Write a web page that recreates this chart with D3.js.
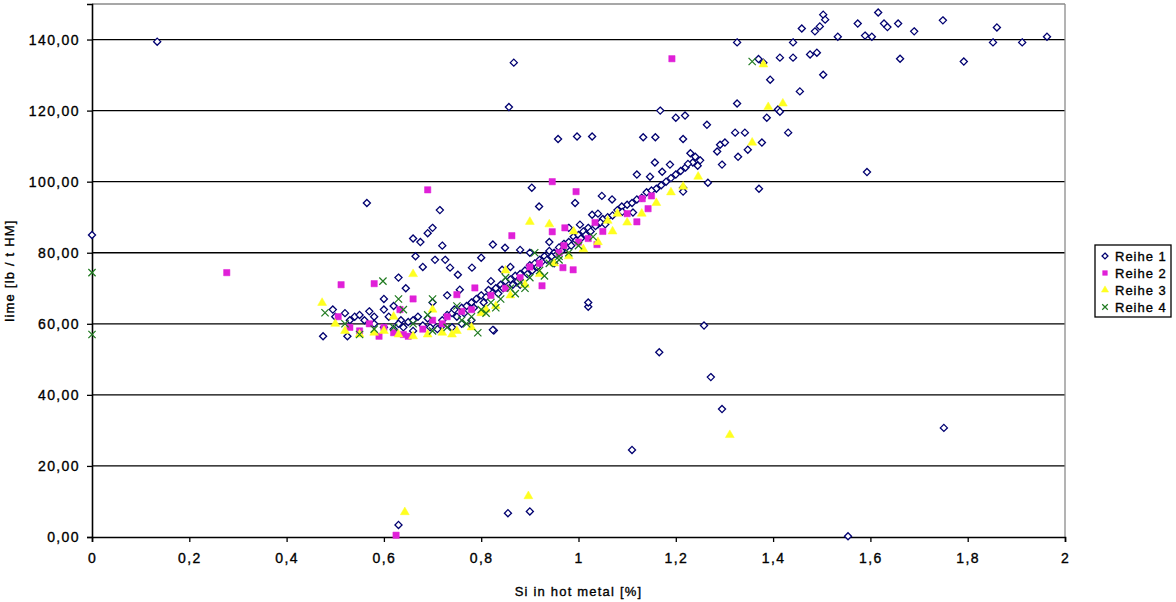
<!DOCTYPE html>
<html>
<head>
<meta charset="utf-8">
<script src="https://cdn.jsdelivr.net/npm/d3@7/dist/d3.min.js"></script>
<style>
  body{margin:0;background:#fff;}
  text{font-family:"Liberation Sans",Arial,sans-serif;fill:#000;stroke:#000;stroke-width:0.35px;}
  .grid line{stroke:#000;stroke-width:1.3;}
  .tick text{font-size:14px;letter-spacing:1.4px;}
</style>
</head>
<body>
<script>
// x: Si in hot metal [%], y: lime [lb / t HM]
var xTicks=[0,0.2,0.4,0.6,0.8,1,1.2,1.4,1.6,1.8,2];
var yTicks=[0,20,40,60,80,100,120,140];
var seriesNames=['Reihe 1','Reihe 2','Reihe 3','Reihe 4'];

var reihe1=[
  [0.134,139.4],[0,85],[0.565,94],[0.475,56.5],[0.525,56.5],[0.495,64],[0.52,63],[0.54,62],
  [0.63,3.4],[0.855,6.7],[0.90,7.2],[1.11,24.5],[1.554,0.2],[1.258,59.5],[1.272,45],[1.295,36],
  [1.751,30.7],[1.166,52],[0.826,58.1],[1.02,64.8],[1.02,66],[0.857,121],[0.867,133.5],
  [0.997,112.7],[1.028,112.7],[0.958,112],[1.133,112.5],[1.158,112.5],[1.168,120],[1.2,118],
  [1.219,118.6],[1.264,116],[1.215,112],[1.326,122],[1.322,113.8],[1.342,113.8],[1.431,113.8],
  [1.377,111],[1.291,110.4],[1.285,108.5],[1.301,111],[1.328,107],[1.348,109],[1.295,104.8],
  [1.387,118],[1.41,120.3],[1.371,98],[1.215,98.3],[1.266,99.7],[1.593,102.7],[1.326,139.2],
  [1.37,134.5],[1.38,133.5],[1.394,128.7],[1.455,125.4],[1.414,134.9],[1.441,134.9],[1.441,139.2],
  [1.476,135.8],[1.49,136.3],[1.503,130.1],[1.459,143.1],[1.486,142.3],[1.496,143.7],[1.503,147],
  [1.507,145.6],[1.533,140.8],[1.574,144.5],[1.589,141.1],[1.603,140.8],[1.616,147.6],[1.628,144.5],
  [1.635,143.5],[1.657,144.5],[1.69,142.3],[1.661,134.6],[1.749,145.4],[1.792,133.8],[1.86,143.4],
  [1.852,139.2],[1.912,139.2],[1.963,140.8],[1.414,119.7],
  [0.904,98.3],[0.919,93],[0.993,94],[1.048,96],[1.069,95],[1.12,102],[1.147,101.4],[1.172,102.8],
  [1.157,105.4],[1.188,104.8],[1.235,105.4],[1.215,97.2],[1.089,93],[1.112,91.3],[1.028,90.7],
  [1.003,87.9],[0.824,82.3],[0.849,81.4],[0.88,80.8],[0.8,78.6],[0.726,78],[0.736,75.8],
  [0.752,73.8],[0.781,75.8],[0.843,75.2],[0.756,69.6],[0.824,58.3],
  [0.66,84],[0.675,83],[0.69,85.5],[0.70,87],[0.715,92],[0.665,79],[0.68,76],[0.63,73],
  [0.645,70],[0.705,78],[0.72,82],
  [0.56,61],[0.58,60],[0.6,59],[0.62,58.5],[0.64,59],[0.66,58],[0.68,59.5],[0.7,60],[0.72,61],
  [0.73,62.5],[0.74,63],[0.75,62],[0.76,64.5],[0.77,65],[0.78,66],[0.79,67],[0.8,68],[0.81,67.5],
  [0.82,69],[0.83,70],[0.84,71],[0.85,72],[0.86,72.5],[0.87,73.5],[0.88,74],[0.89,75],[0.9,76.5],
  [0.91,77],[0.92,78],[0.93,79],[0.94,80.5],[0.95,80],[0.96,81.5],[0.97,82.5],[0.98,83],[0.99,84.5],
  [1.0,85],[1.01,86],[1.02,87],[1.04,88],[1.05,89.5],[1.06,90],[1.08,92],[1.1,93.5],[1.12,95],
  [1.14,97],[1.16,98],[1.18,100],[1.2,102],[1.22,104],[1.24,107],[1.25,106],[1.23,108],[1.245,104.5],
  [0.82,72],[0.86,76],[0.9,80],[0.94,83],[0.98,87],[1.04,91],[0.95,77],[0.88,71],
  [0.745,64],[0.765,63],[0.785,64.5],[0.805,66],[0.815,69.5],[0.835,68.5],[0.845,70],[0.865,71],
  [0.875,72],[0.895,74],[0.905,75],[0.915,76],[0.925,77.5],[0.935,78],[0.945,79],[0.955,79.5],
  [0.965,80.5],[0.975,81.5],[0.985,82],[0.995,83.5],[1.005,84],[1.015,85],[1.025,86],[1.035,87.5],
  [1.045,88.5],[1.055,88],[1.07,90.5],[1.09,91.5],[1.11,94],[1.13,95.5],[1.15,97.5],[1.17,99],
  [1.19,101],[1.21,103],[1.225,105],
  [0.5,62],[0.55,62.5],[0.57,63.5],[0.6,64],[0.61,62],[0.635,61],[0.65,60.5],[0.67,62],[0.69,61.5],
  [0.71,58.5],[0.74,59],[0.76,60],[0.78,61],[0.6,67],[0.62,65],[0.7,66],[0.73,68],
  [0.53,61],[0.58,62],[0.63,60],[0.66,61],[0.695,59],[0.72,59.5]
];

var reihe2=[
  [0.277,74.4],[0.512,71],[0.506,62],[0.53,59],[0.625,0.5],[1.192,134.6],[0.69,97.7],[0.58,71.3],
  [0.633,64],[0.66,67],[0.6,59],[0.62,57.5],[0.55,58],[0.57,60],[0.64,57],[0.68,58.5],[0.7,61],
  [0.72,60],[0.946,100],[0.995,97.2],[0.863,84.8],[0.946,85.9],[0.972,87],[1.034,88.5],[1.038,82.3],
  [1.131,95.2],[1.143,92.4],[1.12,88.7],[0.968,75.8],[0.989,75.2],[0.925,70.7],[0.75,68.2],
  [0.787,70.1],[0.9,76],[0.78,64],[0.82,68],[0.85,70],[0.88,73],[0.92,77],[0.96,80],[1.0,83],
  [1.05,86],[1.1,91],[1.15,96],[0.73,62],[0.76,63.5],[0.97,82],[1.02,84],[0.65,56.5],[0.59,56.5]
];

var reihe3=[
  [0.643,7],[0.897,11.5],[1.311,28.7],[1.39,121],[1.357,111],[1.246,101.4],[1.215,98.6],[0.473,65.9],
  [0.9,88.7],[1.38,133],[1.42,122],[0.5,60],[0.52,58],[0.55,57],[0.58,57.5],[0.6,58],[0.63,57],
  [0.66,56.5],[0.69,57],[0.72,57.5],[0.75,58],[0.78,59],[0.8,63],[0.83,65],[0.86,68],[0.89,71],
  [0.92,74],[0.95,77],[0.98,79],[1.01,81],[1.04,83],[1.07,86],[1.1,88.5],[1.13,91],[1.16,94],
  [1.19,97],[1.06,89],[0.66,74],[0.62,62],[0.7,64],[0.85,75],[0.94,88],[0.99,86],[1.08,91],
  [0.74,57],[0.81,64]
];

var reihe4=[
  [0,74.4],[0,57],[0.479,63.1],[0.598,72],[0.63,67],[0.7,67],[1.357,133.8],[0.793,57.5],[0.55,57],
  [0.58,58.5],[0.62,59],[0.66,60],[0.7,58],[0.73,59],[0.76,61],[0.78,62],[0.8,64],[0.82,66],
  [0.84,67],[0.86,70],[0.88,71.5],[0.9,73],[0.92,75],[0.94,77],[0.96,79],[0.98,80],[1.0,82],
  [1.03,84.5],[0.85,73],[0.75,65],[0.64,64],[0.69,62.5],[0.52,60],[0.91,80],[0.96,78],
  [0.77,60],[0.81,63],[0.83,64.5],[0.87,68.5],[0.89,70],[0.93,73.5]
];

var W=1176,H=602;
var m={left:92,right:111,top:4,bottom:65};
var pw=W-m.left-m.right, ph=H-m.top-m.bottom;

var svg=d3.select('body').append('svg').attr('width',W).attr('height',H);
var g=svg.append('g').attr('transform','translate('+m.left+','+m.top+')');

var x=d3.scaleLinear().domain([0,2]).range([0,pw]);
var y=d3.scaleLinear().domain([0,150]).range([ph,0]);

var comma=function(v){return String(v).replace('.',',');};

// horizontal grid
g.append('g').attr('class','grid')
  .selectAll('line').data(yTicks.filter(function(d){return d>0;})).enter().append('line')
  .attr('x1',0).attr('x2',pw)
  .attr('y1',function(d){return y(d);}).attr('y2',function(d){return y(d);});

// frame: top and right are grey
g.append('line').attr('x1',0).attr('x2',pw).attr('y1',0).attr('y2',0)
  .attr('stroke','#8a8a8a').attr('stroke-width',1.3);
g.append('line').attr('x1',pw).attr('x2',pw).attr('y1',0).attr('y2',ph)
  .attr('stroke','#8a8a8a').attr('stroke-width',1.3);

var xAxis=g.append('g').attr('transform','translate(0,'+ph+')')
  .call(d3.axisBottom(x).tickValues(xTicks).tickSize(5).tickPadding(11).tickFormat(comma));
var yAxis=g.append('g')
  .call(d3.axisLeft(y).tickValues(yTicks).tickSize(5).tickPadding(7)
    .tickFormat(function(d){return d3.format('.2f')(d).replace('.',',');}));
[xAxis,yAxis].forEach(function(a){
  a.select('.domain').attr('stroke','#000').attr('stroke-width',1.6);
  a.selectAll('.tick line').attr('stroke','#000').attr('stroke-width',1.3);
  a.selectAll('.tick text').attr('fill','#000');
});

// markers
var diamond=d3.symbol().type(d3.symbolDiamond2).size(32);
var square=d3.symbol().type(d3.symbolSquare).size(40);
var tri=d3.symbol().type(d3.symbolTriangle).size(34);
var cross=d3.symbol().type(d3.symbolX).size(36);

var styles=[
  {data:reihe1,sym:diamond,fill:'#fff',stroke:'#000070',sw:1.3},
  {data:reihe2,sym:square,fill:'#e020d8',stroke:'#e020d8',sw:0.5},
  {data:reihe3,sym:tri,fill:'#ffff20',stroke:'#ffff20',sw:0.5},
  {data:reihe4,sym:cross,fill:'none',stroke:'#1f7a1f',sw:1.2}
];

styles.forEach(function(s,i){
  g.append('g').attr('class','series'+(i+1))
    .selectAll('path').data(s.data).enter().append('path')
    .attr('transform',function(d){return 'translate('+x(d[0])+','+y(d[1])+')';})
    .attr('d',s.sym)
    .attr('fill',s.fill).attr('stroke',s.stroke).attr('stroke-width',s.sw);
});

// axis titles
svg.append('text')
  .attr('x',m.left+pw/2).attr('y',596)
  .attr('text-anchor','middle').attr('font-size','13px').attr('letter-spacing','1.2px')
  .text('Si in hot metal [%]');
svg.append('text')
  .attr('transform','translate(14,'+(m.top+ph/2)+') rotate(-90)')
  .attr('text-anchor','middle').attr('font-size','13px').attr('letter-spacing','1.2px')
  .text('lime [lb / t HM]');

// legend
var lg=svg.append('g').attr('transform','translate(1095,245)');
lg.append('rect').attr('width',76).attr('height',72)
  .attr('fill','#fff').attr('stroke','#000').attr('stroke-width',1.3);
var row=lg.selectAll('g.item').data(styles).enter().append('g')
  .attr('class','item')
  .attr('transform',function(d,i){return 'translate(0,'+(11+i*17)+')';});
row.append('path').attr('transform','translate(10,0)')
  .attr('d',function(d){return d.sym.size(22)();})
  .attr('fill',function(d){return d.fill;})
  .attr('stroke',function(d){return d.stroke;})
  .attr('stroke-width',function(d){return d.sw;});
row.append('text').attr('x',20).attr('y',5)
  .attr('font-size','13px').attr('letter-spacing','1px')
  .text(function(d,i){return seriesNames[i];});
</script>
</body>
</html>
